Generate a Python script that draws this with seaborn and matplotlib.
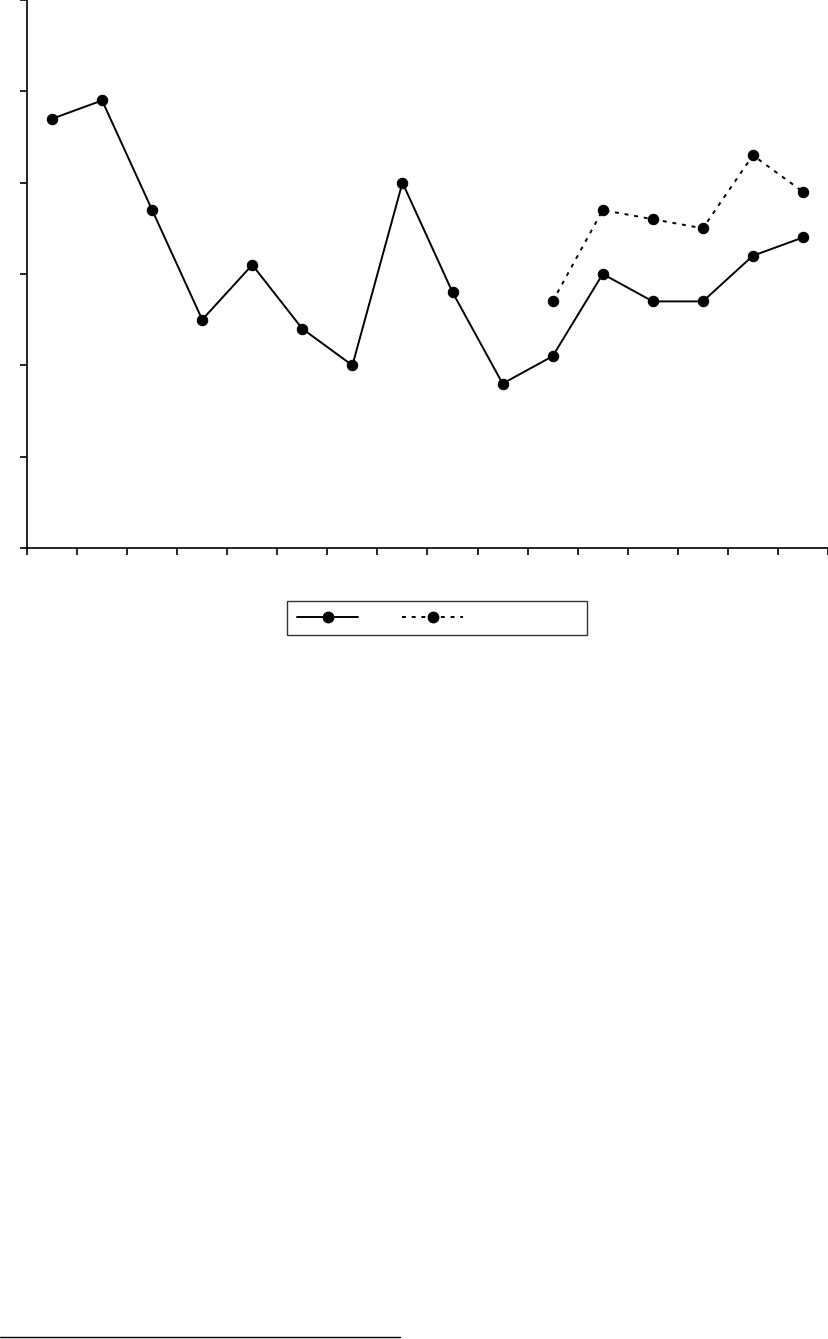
import numpy as np
import pandas as pd
import matplotlib
matplotlib.use("Agg")
import matplotlib.pyplot as plt
import seaborn as sns
from matplotlib.lines import Line2D

# Data
categories = [str(i) for i in range(1, 17)]
series_solid = [47, 49, 37, 25, 31, 24, 20, 40, 28, 18, 21, 30, 27, 27, 32, 34]
series_dotted = [None] * 10 + [27, 37, 36, 35, 43, 39]
y_ticks = [0, 10, 20, 30, 40, 50, 60]

sns.set_theme(style="white")
plt.rcParams['font.family'] = ['DejaVu Sans']

W, H = 829, 1339
fig = plt.figure(figsize=(W / 100, H / 100), dpi=100)
ax = fig.add_axes([27 / W, (H - 548) / H, 801 / W, 548 / H])

xpos = np.arange(len(categories))
df1 = pd.DataFrame({"x": xpos, "y": series_solid})
df2 = pd.DataFrame({"x": xpos, "y": series_dotted}).dropna()

sns.lineplot(data=df1, x="x", y="y", ax=ax, color="black", lw=1.4,
             marker="o", markersize=7.5, markeredgecolor="black")
sns.lineplot(data=df2, x="x", y="y", ax=ax, color="black", lw=1.4,
             linestyle=(0, (2, 3)), marker="o", markersize=7.5,
             markeredgecolor="black")

ax.set_xlim(-0.5, len(categories) - 0.5)
ax.set_ylim(y_ticks[0], y_ticks[-1])
ax.set_xticks(np.arange(-0.5, len(categories), 1.0))
ax.set_xticklabels([])
ax.set_yticks(y_ticks)
ax.set_yticklabels([])
ax.set_xlabel("")
ax.set_ylabel("")
for s in ["top", "right"]:
    ax.spines[s].set_visible(False)
for s in ["left", "bottom"]:
    ax.spines[s].set_color("black")
    ax.spines[s].set_linewidth(1.2)
ax.tick_params(axis="both", direction="out", length=5, width=1.2,
               color="black", left=True, bottom=True)
ax.grid(False)

# Legend
h1 = Line2D([], [], color="black", lw=1.4, marker="o", markersize=7.5)
h2 = Line2D([], [], color="black", lw=1.4, linestyle=(0, (2, 3)),
            marker="o", markersize=7.5)
leg = fig.legend([h1, h2], ["\u00a0" * 6, "\u00a0" * 25], ncol=2,
                 loc="center", bbox_to_anchor=(437 / W, 1 - 618 / H),
                 frameon=True, fancybox=False, edgecolor="black",
                 handlelength=4.4, handletextpad=0.3, columnspacing=1.0,
                 borderpad=0.75, borderaxespad=0, fontsize=10)
leg.get_frame().set_linewidth(1.0)
leg.get_frame().set_facecolor("white")

# footnote separator line
fig.add_artist(Line2D([0, 400 / W], [1 - 1337 / H, 1 - 1337 / H],
                      color="black", lw=1.0, transform=fig.transFigure))

fig.savefig("out.png", dpi=100)
